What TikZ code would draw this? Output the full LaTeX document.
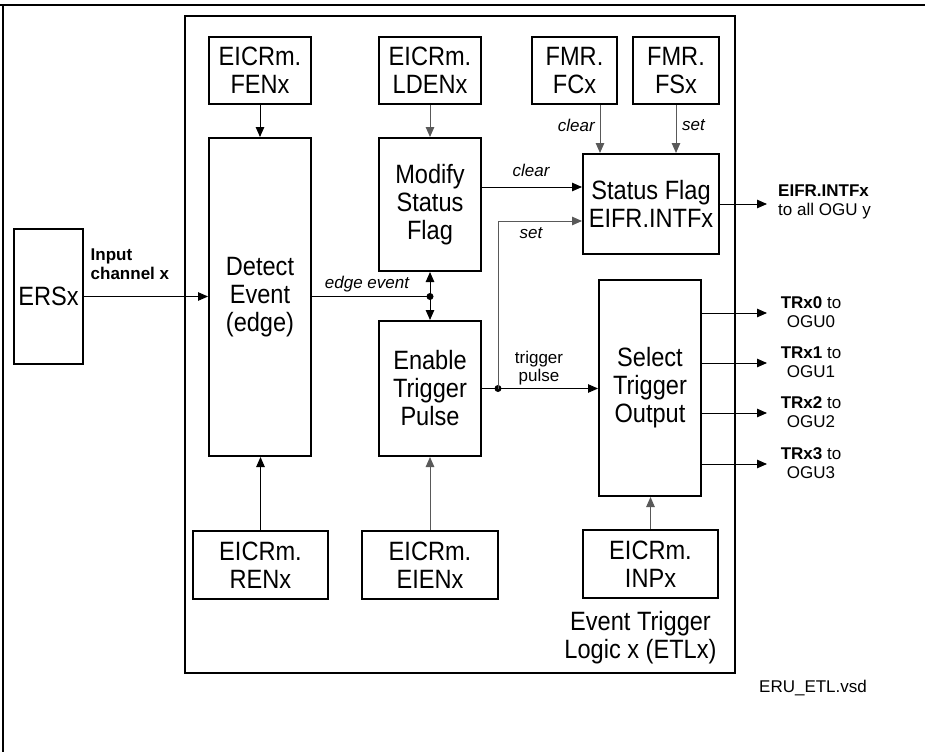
\documentclass[tikz,border=0pt]{standalone}
\usepackage{fontspec}
\setmainfont{Liberation Sans}
\newfontfamily\narrowfam{Liberation Sans}[FakeStretch=0.89]
\usetikzlibrary{arrows.meta}
\newcommand\mainsz{\narrowfam\fontsize{26.5}{28}\selectfont}
\newcommand\smallsz{\fontsize{17}{18.5}\selectfont}
\begin{document}
\begin{tikzpicture}[x=1pt,y=-1pt,
  blk/.style={draw,line width=2pt,inner sep=0pt,align=center,font=\mainsz},
  lbl/.style={inner sep=0pt,font=\smallsz},
  ilbl/.style={inner sep=0pt,font=\smallsz\itshape},
  arr/.style={line width=1pt,-{Triangle[length=10pt,width=8.5pt]}},
  arrg/.style={arr,draw=black!65},
  dbl/.style={line width=1pt,{Triangle[length=10pt,width=8.5pt]}-{Triangle[length=10pt,width=8.5pt]}},
  dot/.style={circle,fill=black,inner sep=0pt,minimum size=7pt}]
\useasboundingbox (0,0) rectangle (925,752);
\fill[white] (0,0) rectangle (925,752);
% page frame
\draw[line width=1.5pt] (0,5) -- (925,5);
\draw[line width=1.5pt] (3,5) -- (3,752);
% main box
\node[draw,line width=2pt,minimum width=550.5pt,minimum height=656pt,inner sep=0pt] (etl) at (459.75,344.5) {};
\node[inner sep=0pt,align=center,font=\mainsz] (etllbl) at (640.5,638) {Event Trigger\\Logic x (ETLx)};
% blocks
\node[blk,minimum width=102pt,minimum height=67pt] (fen) at (260,70.5) {EICRm.\\FENx};
\node[blk,minimum width=102pt,minimum height=318pt] (det) at (260,297) {Detect\\Event\\(edge)};
\node[blk,minimum width=102pt,minimum height=67pt] (lden) at (430,70.5) {EICRm.\\LDENx};
\node[blk,minimum width=102pt,minimum height=133pt] (mod) at (430,204.5) {Modify\\Status\\Flag};
\node[blk,minimum width=85pt,minimum height=67pt] (fcx) at (574.5,70.5) {FMR.\\FCx};
\node[blk,minimum width=86pt,minimum height=67pt] (fsx) at (676,70.5) {FMR.\\FSx};
\node[blk,minimum width=136pt,minimum height=100pt] (stat) at (651,204) {Status Flag\\EIFR.INTFx};
\node[blk,minimum width=102pt,minimum height=135pt] (ena) at (430,388.5) {Enable\\Trigger\\Pulse};
\node[blk,minimum width=102pt,minimum height=216pt] (sel) at (650,388) {Select\\Trigger\\Output};
\node[blk,minimum width=135pt,minimum height=68pt] (ren) at (260.5,565) {EICRm.\\RENx};
\node[blk,minimum width=136pt,minimum height=68pt] (eien) at (430,565) {EICRm.\\EIENx};
\node[blk,minimum width=135pt,minimum height=68pt] (inp) at (650.5,564) {EICRm.\\INPx};
\node[blk,minimum width=69pt,minimum height=135pt] (ers) at (48.5,296.5) {ERSx};
% helper coordinates
\coordinate (fcl) at (600,0);
\coordinate (clr) at (0,187);
\coordinate (setc) at (0,221);
\node[dot] (jn) at (430,296.5) {};
\node[dot] (jt) at (498,388.5) {};
% connectors
\draw[arr] (ers.east) -- (ers.east -| det.west);
\draw[arr] (fen.south) -- (det.north);
\draw[arrg] (lden.south) -- (mod.north);
\draw[arr] (ren.north) -- (ren.north |- det.south);
\draw[arrg] (eien.north) -- (ena.south);
\draw[arrg] (inp.north) -- (inp.north |- sel.south);
\draw[line width=1pt] (det.east |- jn) -- (jn.center);
\draw[dbl] (mod.south) -- (ena.north);
\draw[arrg] (fcx.south -| fcl) -- (stat.north -| fcl);
\draw[arrg] (fsx.south) -- (fsx.south |- stat.north);
\draw[arr] (mod.east |- clr) -- (stat.west |- clr);
\draw[arr] (ena.east) -- (ena.east -| sel.west);
\draw[arrg] (jt.center) |- (stat.west |- setc);
\coordinate (oi) at (767,204);
\draw[arr] (stat.east |- oi) -- (oi);
\foreach \i/\y in {0/313,1/363,2/413,3/464}{
  \coordinate (o\i) at (767,\y);
  \draw[arr] (sel.east |- o\i) -- (o\i);
  \node[lbl,align=center] (t\i) at (811,\y-1) {\textbf{TRx\i} to\\OGU\i};
}
% labels
\node[lbl,align=left,anchor=west,font=\smallsz\bfseries] (inl) at (90.5,264) {Input\\channel x};
\node[ilbl] (ee) at (367,284) {edge event};
\node[ilbl,anchor=east] (cl1) at (595,125) {clear};
\node[ilbl,anchor=west] (st1) at (682,125) {set};
\node[ilbl] (cl2) at (531,170) {clear};
\node[ilbl] (st2) at (531,233) {set};
\node[lbl,align=center] (tp) at (539,368) {trigger\\pulse};
\node[lbl,align=left,anchor=west] (eo) at (778,202) {\textbf{EIFR.INTFx}\\to all OGU y};
\node[lbl] (vsd) at (813,688) {ERU\_ETL.vsd};
\end{tikzpicture}
\end{document}
